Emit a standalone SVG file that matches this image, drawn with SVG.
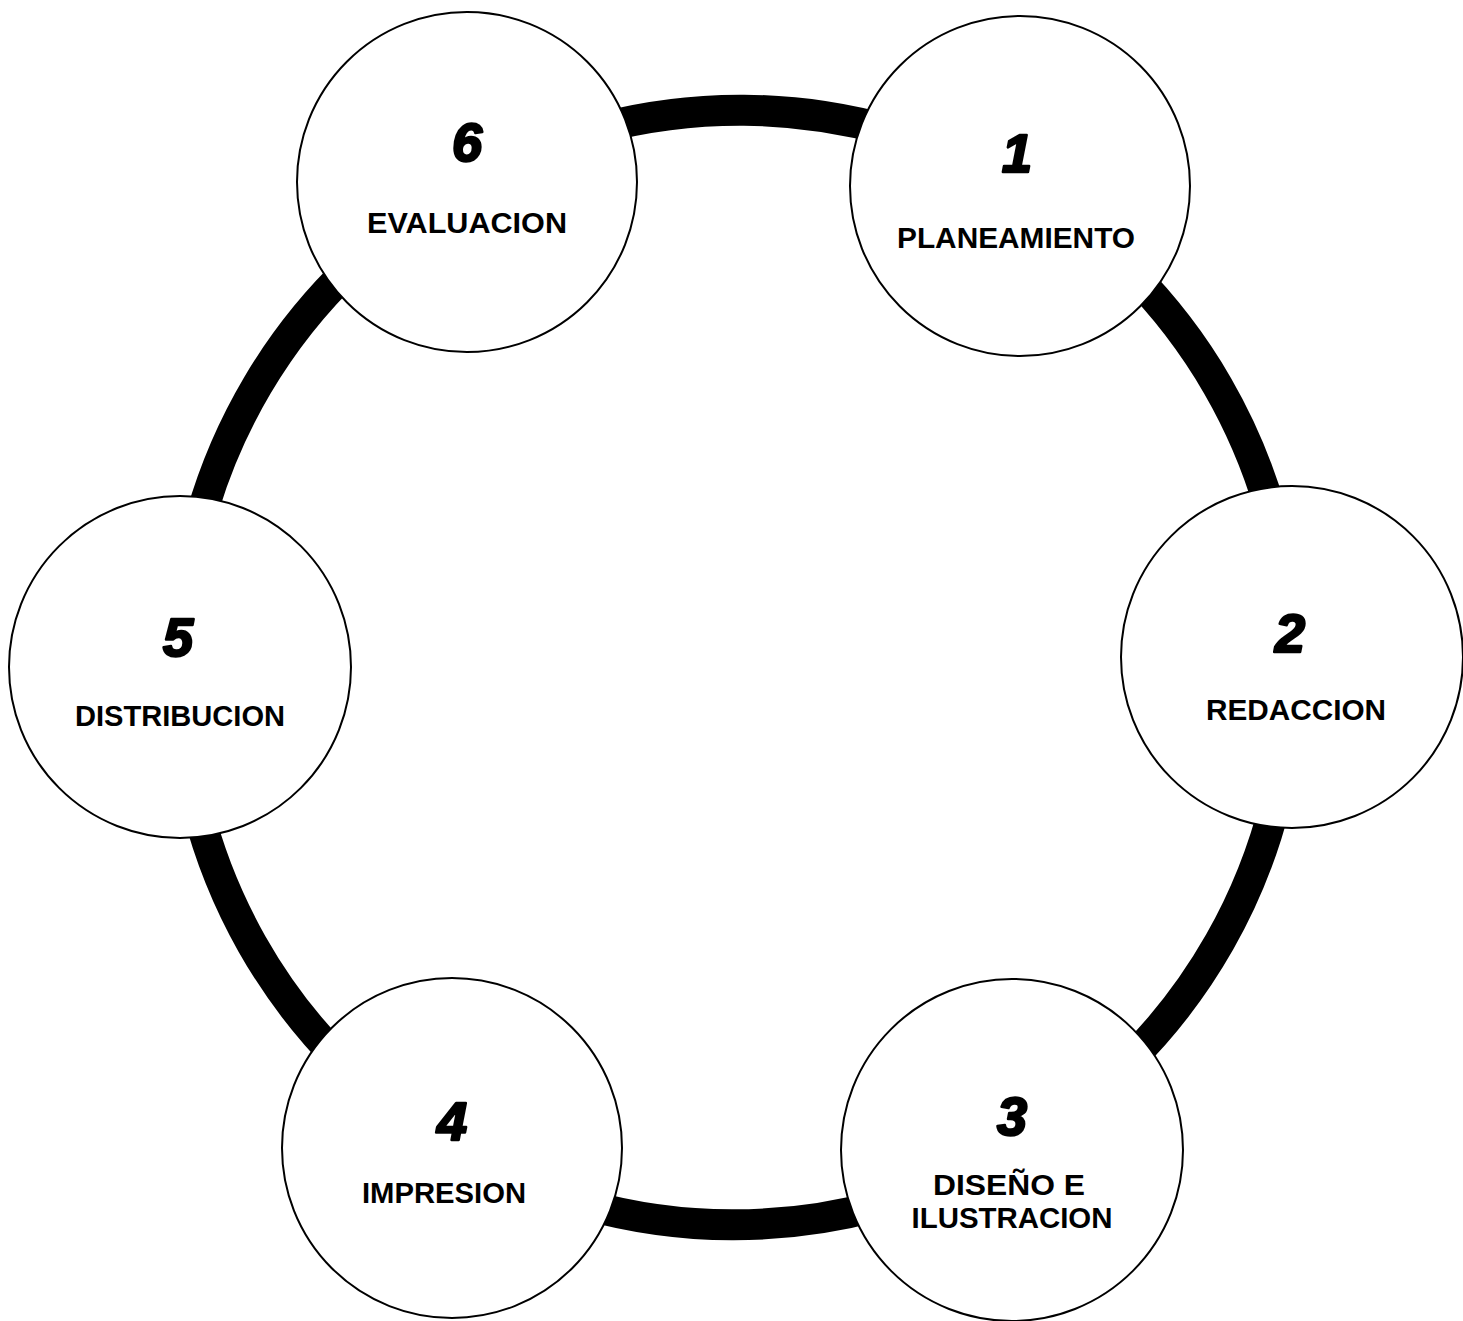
<svg xmlns="http://www.w3.org/2000/svg" width="1463" height="1321" viewBox="0 0 1463 1321">
<style>
.ring{fill:none;stroke:#000;stroke-width:31}
.node{fill:#fff;stroke:#000;stroke-width:2}
.num{font-family:"Liberation Sans",Arial,sans-serif;font-weight:bold;font-style:italic;font-size:54px;text-anchor:middle;fill:#000;stroke:#000;stroke-width:2.5;stroke-linejoin:round}
.lbl{font-family:"Liberation Sans",Arial,sans-serif;font-weight:bold;font-size:29px;text-anchor:middle;fill:#000}
</style>
<rect width="1463" height="1321" fill="#fff"/>
<g id="connectors">
<path class="ring" d="M1020 186 A555 555 0 0 1 1292 657"/>
<path class="ring" d="M1292 657 A555 555 0 0 1 1012 1150"/>
<path class="ring" d="M1012 1150 A555 555 0 0 1 452 1148"/>
<path class="ring" d="M452 1148 A555 555 0 0 1 180 667"/>
<path class="ring" d="M180 667 A555 555 0 0 1 467 182"/>
<path class="ring" d="M467 182 A555 555 0 0 1 1020 186"/>
</g>
<g id="node1">
<circle class="node" cx="1020" cy="186" r="170"/>
<text class="num" x="1017" y="172">1</text>
<text class="lbl" x="1016" y="248" textLength="238" lengthAdjust="spacingAndGlyphs">PLANEAMIENTO</text>
</g>
<g id="node2">
<circle class="node" cx="1292" cy="657" r="171"/>
<text class="num" x="1290" y="652">2</text>
<text class="lbl" x="1296" y="720" textLength="180" lengthAdjust="spacingAndGlyphs">REDACCION</text>
</g>
<g id="node3">
<circle class="node" cx="1012" cy="1150" r="171"/>
<text class="num" x="1012" y="1135">3</text>
<text class="lbl" x="1009" y="1195" textLength="152" lengthAdjust="spacingAndGlyphs">DISEÑO  E</text>
<text class="lbl" x="1012" y="1228" textLength="201" lengthAdjust="spacingAndGlyphs">ILUSTRACION</text>
</g>
<g id="node4">
<circle class="node" cx="452" cy="1148" r="170"/>
<text class="num" x="452" y="1140">4</text>
<text class="lbl" x="444" y="1203" textLength="164" lengthAdjust="spacingAndGlyphs">IMPRESION</text>
</g>
<g id="node5">
<circle class="node" cx="180" cy="667" r="171"/>
<text class="num" x="178" y="656">5</text>
<text class="lbl" x="180" y="726" textLength="210" lengthAdjust="spacingAndGlyphs">DISTRIBUCION</text>
</g>
<g id="node6">
<circle class="node" cx="467" cy="182" r="170"/>
<text class="num" x="467" y="161">6</text>
<text class="lbl" x="467" y="233" textLength="200" lengthAdjust="spacingAndGlyphs">EVALUACION</text>
</g>
</svg>
